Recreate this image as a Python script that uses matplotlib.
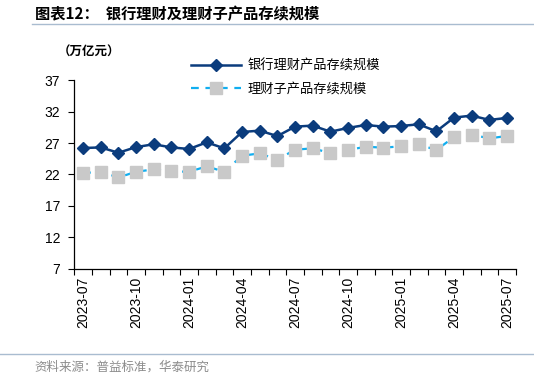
import matplotlib
matplotlib.use('Agg')
import matplotlib.pyplot as plt
import numpy as np
from matplotlib.lines import Line2D

plt.rcParams['font.family'] = ['Liberation Sans', 'Noto Sans CJK SC', 'DejaVu Sans']

# Data (万亿元), monthly 2023-07 .. 2025-07
months = ['2023-07', '2023-08', '2023-09', '2023-10', '2023-11', '2023-12',
          '2024-01', '2024-02', '2024-03', '2024-04', '2024-05', '2024-06',
          '2024-07', '2024-08', '2024-09', '2024-10', '2024-11', '2024-12',
          '2025-01', '2025-02', '2025-03', '2025-04', '2025-05', '2025-06',
          '2025-07']
bank_wm = [26.2, 26.3, 25.45, 26.35, 26.8, 26.3,
           26.05, 27.1, 26.15, 28.75, 28.97, 28.1,
           29.6, 29.77, 28.8, 29.4, 29.87, 29.6,
           29.7, 29.98, 28.86, 31.04, 31.36, 30.67,
           30.99]
sub_wm = [22.21, 22.43, 21.52, 22.43, 22.8, 22.48,
          22.43, 23.28, 22.43, 24.98, 25.35, 24.34,
          25.94, 26.15, 25.4, 25.88, 26.41, 26.26,
          26.47, 26.79, 25.88, 27.96, 28.33, 27.74,
          28.12]
yticks = [7, 12, 17, 22, 27, 32, 37]

navy = '#0b3c7d'
sky = '#10aef0'
grey_mk = '#c9c9c9'
cjk = ['Noto Sans CJK SC', 'DejaVu Sans']

fig = plt.figure(figsize=(5.34, 3.78), dpi=100)
ax = fig.add_axes([0.139, 0.289, 0.827, 0.499])

x = np.arange(len(months))
ax.plot(x, sub_wm, color=sky, lw=1.6, ls=(0, (3.5, 3)), marker='s', ms=9,
        mfc=grey_mk, mec=grey_mk, zorder=2)
ax.plot(x, bank_wm, color=navy, lw=1.8, marker='D', ms=6.5,
        mfc=navy, mec=navy, zorder=3)

ax.set_xlim(-0.5, len(months) - 0.5)
ax.set_ylim(7, 37)
ax.set_yticks(yticks)
ax.set_yticklabels([str(v) for v in yticks], fontsize=10)

# category ticks on boundaries, labels every 3 months
ax.set_xticks(np.arange(-0.5, len(months), 1.0))
ax.set_xticklabels([])
ax.set_xticks(x[::3], minor=True)
ax.set_xticklabels(months[::3], minor=True, rotation=90, fontsize=10)
ax.tick_params(axis='x', which='major', length=4, width=0.8, direction='out')
ax.tick_params(axis='x', which='minor', length=0, pad=6)
ax.tick_params(axis='y', length=4, width=0.8, direction='out', pad=6)

ax.spines['top'].set_visible(False)
ax.spines['right'].set_visible(False)
for s in ['left', 'bottom']:
    ax.spines[s].set_linewidth(0.9)

# legend
h1 = Line2D([], [], color=navy, lw=1.8, marker='D', ms=6.5, mfc=navy, mec=navy)
h2 = Line2D([], [], color=sky, lw=1.6, ls=(0, (3.5, 3)), marker='s', ms=9,
            mfc=grey_mk, mec=grey_mk)
leg = fig.legend([h1, h2], ['银行理财产品存续规模', '理财子产品存续规模'],
                 loc='upper left', bbox_to_anchor=(0.335, 0.875), frameon=False,
                 handlelength=3.8, handletextpad=0.5, labelspacing=0.75,
                 prop={'family': cjk, 'size': 9.5})

# title, unit, source
fig.text(0.065, 0.962, '图表12：  银行理财及理财子产品存续规模', fontsize=11,
         fontweight='bold', family=cjk, va='center', ha='left')
fig.add_artist(Line2D([0.06, 1.0], [0.937, 0.937], color='#a9bcd0', lw=1.0,
                      transform=fig.transFigure))
fig.text(0.108, 0.862, '（万亿元）', fontsize=9, fontweight='bold', family=cjk,
         va='center', ha='left')
fig.add_artist(Line2D([0.0, 1.0], [0.063, 0.063], color='#a9bcd0', lw=1.0,
                      transform=fig.transFigure))
fig.text(0.065, 0.03, '资料来源：普益标准，华泰研究', fontsize=9, color='#8c8c8c',
         family=cjk, va='center', ha='left')

fig.savefig('out.png', dpi=100, facecolor='white')
